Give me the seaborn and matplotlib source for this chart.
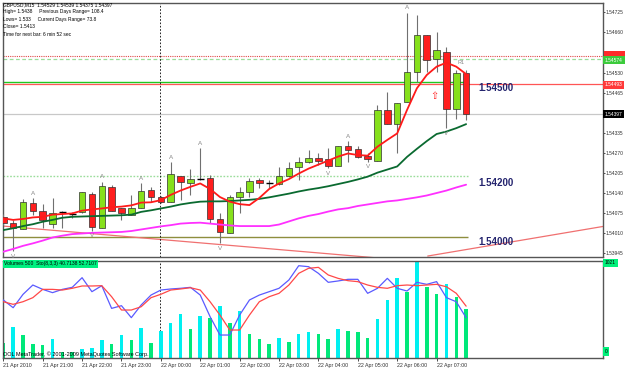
import numpy as np
import pandas as pd
import matplotlib
matplotlib.use("Agg")
import matplotlib.pyplot as plt
import seaborn as sns
from matplotlib.patches import Rectangle

# ---------------- data ----------------
hour_labels = ["21 Apr 2010", "21 Apr 21:00", "21 Apr 22:00", "21 Apr 23:00",
               "22 Apr 00:00", "22 Apr 01:00", "22 Apr 02:00", "22 Apr 03:00",
               "22 Apr 04:00", "22 Apr 05:00", "22 Apr 06:00", "22 Apr 07:00"]

opens = [1.54062, 1.54044, 1.54023, 1.54107, 1.54083, 1.54039, 1.54077, 1.54073, 1.54077, 1.54137,
         1.54026, 1.54159, 1.54090, 1.54069, 1.54092, 1.54150, 1.54126, 1.54110, 1.54195, 1.54171,
         1.54185, 1.54188, 1.54055, 1.54012, 1.54126, 1.54144, 1.54182, 1.54173, 1.54169, 1.54195,
         1.54225, 1.54241, 1.54252, 1.54249, 1.54229, 1.54292, 1.54282, 1.54260, 1.54245, 1.54409,
         1.54363, 1.54436, 1.54533, 1.54652, 1.54573, 1.54597, 1.54412, 1.54529]
highs = [1.54072, 1.54053, 1.54121, 1.54124, 1.54104, 1.54124, 1.54083, 1.54079, 1.54143, 1.54144,
         1.54177, 1.54167, 1.54091, 1.54132, 1.54172, 1.54160, 1.54131, 1.54239, 1.54195, 1.54217,
         1.54285, 1.54198, 1.54074, 1.54134, 1.54159, 1.54190, 1.54189, 1.54182, 1.54223, 1.54241,
         1.54258, 1.54279, 1.54270, 1.54285, 1.54292, 1.54308, 1.54293, 1.54270, 1.54426, 1.54466,
         1.54430, 1.54723, 1.54716, 1.54652, 1.54660, 1.54614, 1.54538, 1.54539]
lows = [1.54036, 1.53952, 1.54023, 1.54069, 1.54027, 1.54028, 1.54028, 1.54059, 1.54075, 1.54017,
        1.54026, 1.54083, 1.54053, 1.54069, 1.54092, 1.54112, 1.54108, 1.54110, 1.54117, 1.54134,
        1.54182, 1.54044, 1.53977, 1.54012, 1.54076, 1.54128, 1.54155, 1.54155, 1.54166, 1.54191,
        1.54182, 1.54236, 1.54231, 1.54220, 1.54229, 1.54242, 1.54253, 1.54241, 1.54244, 1.54364,
        1.54269, 1.54436, 1.54500, 1.54533, 1.54533, 1.54350, 1.54380, 1.54375]
closes = [1.54043, 1.54026, 1.54110, 1.54082, 1.54053, 1.54074, 1.54077, 1.54073, 1.54142, 1.54031,
          1.54163, 1.54083, 1.54075, 1.54092, 1.54146, 1.54126, 1.54110, 1.54201, 1.54175, 1.54184,
          1.54185, 1.54056, 1.54013, 1.54128, 1.54142, 1.54180, 1.54171, 1.54173, 1.54195, 1.54222,
          1.54241, 1.54252, 1.54244, 1.54228, 1.54291, 1.54278, 1.54256, 1.54249, 1.54408, 1.54364,
          1.54430, 1.54533, 1.54652, 1.54571, 1.54603, 1.54412, 1.54528, 1.54397]

ma_fast = [1.54058, 1.54053, 1.54056, 1.54061, 1.54063, 1.54070, 1.54072, 1.54074, 1.54083, 1.54087,
           1.54090, 1.54094, 1.54096, 1.54100, 1.54109, 1.54110, 1.54117, 1.54134, 1.54148, 1.54160,
           1.54171, 1.54153, 1.54127, 1.54112, 1.54104, 1.54101, 1.54124, 1.54153, 1.54171, 1.54185,
           1.54203, 1.54219, 1.54232, 1.54245, 1.54258, 1.54268, 1.54263, 1.54261, 1.54290, 1.54312,
           1.54333, 1.54409, 1.54479, 1.54522, 1.54549, 1.54562, 1.54549, 1.54525]
ma_mid = [1.54020, 1.54026, 1.54033, 1.54039, 1.54047, 1.54053, 1.54060, 1.54063, 1.54064, 1.54065,
          1.54066, 1.54067, 1.54068, 1.54070, 1.54079, 1.54084, 1.54090, 1.54096, 1.54103, 1.54108,
          1.54112, 1.54113, 1.54113, 1.54114, 1.54116, 1.54118, 1.54121, 1.54126, 1.54132, 1.54138,
          1.54145, 1.54151, 1.54156, 1.54162, 1.54169, 1.54176, 1.54184, 1.54193, 1.54206, 1.54216,
          1.54226, 1.54257, 1.54283, 1.54308, 1.54331, 1.54339, 1.54350, 1.54363]
ma_slow = [1.53950, 1.53959, 1.53969, 1.53977, 1.53986, 1.53996, 1.54002, 1.54007, 1.54009, 1.54011,
           1.54012, 1.54013, 1.54014, 1.54017, 1.54022, 1.54027, 1.54032, 1.54036, 1.54041, 1.54043,
           1.54044, 1.54041, 1.54038, 1.54035, 1.54033, 1.54033, 1.54033, 1.54033, 1.54038, 1.54048,
           1.54058, 1.54066, 1.54072, 1.54080, 1.54087, 1.54091, 1.54098, 1.54103, 1.54108, 1.54113,
           1.54116, 1.54121, 1.54126, 1.54132, 1.54140, 1.54148, 1.54158, 1.54167]

volume = [163, 334, 245, 149, 139, 203, 68, 60, 96, 107, 192, 149, 245, 189, 320, 163, 288, 373,
          469, 309, 445, 427, 555, 377, 501, 259, 203, 146, 210, 167, 259, 277, 253, 206, 309, 288,
          277, 210, 419, 619, 857, 701, 1021, 761, 680, 786, 654, 523]
stoch_main = [59.1, 51.1, 64.9, 74.6, 70.1, 66.7, 70.1, 72.2, 82.2, 67.7, 73.9, 50.4, 53.2, 40.8,
              53.9, 64.2, 69.4, 70.5, 71.2, 72.2, 64.2, 41.8, 22.8, 22.8, 43.5, 59.1, 64.2, 67.7,
              71.2, 79.8, 94.6, 93.6, 86.7, 77.4, 78.8, 80.5, 80.5, 66.0, 71.2, 81.5, 71.2, 68.4,
              77.4, 75.3, 78.1, 61.5, 57.3, 40.7138]
stoch_signal = [57.3, 54.6, 57.3, 61.5, 70.1, 70.1, 69.4, 71.2, 73.6, 73.6, 73.9, 62.5, 48.7, 48.7,
                52.1, 61.5, 65.0, 69.4, 70.5, 71.8, 69.4, 57.3, 43.5, 28.0, 28.0, 43.5, 57.3, 62.5,
                66.0, 74.6, 86.7, 91.9, 92.9, 85.0, 81.5, 79.1, 78.1, 74.6, 72.2, 71.2, 73.9, 74.6,
                73.9, 74.6, 75.3, 72.8, 66.0, 52.7107]

fractal_up = [3, 10, 14, 17, 20, 35, 41]
fractal_down = [1, 9, 22, 33, 37, 45]

price_ticks = [1.54725, 1.54660, 1.54595, 1.54530, 1.54465, 1.54400, 1.54335,
               1.54270, 1.54205, 1.54140, 1.54075, 1.54010, 1.53945]
hidden_ticks = [1.54595, 1.54400]   # covered by the price labels in the reference

level_red_dotted = 1.54582
level_green_dashed = 1.54574
level_green = 1.54500
level_red = 1.54493
level_bid = 1.54397
level_green_dotted = 1.54195
level_olive = 1.53998
trend_down = ([0, 38.3], [1.54033, 1.53929])
trend_up = ([43.1, 61.5], [1.53936, 1.54035])

info_lines = ["GBPUSD,M15  1.54529 1.54539 1.54375 1.54397",
              "High= 1.5438     Previous Days Range= 108.4",
              "Lows= 1.533     Current Days Range= 73.8",
              "Close= 1.5413",
              "Time for next bar: 6 min 52 sec"]

# ---------------- styling ----------------
sns.set_style("white")
plt.rcParams['font.family'] = ['Liberation Sans', 'DejaVu Sans']

W, H = 625, 370
fig = plt.figure(figsize=(6.25, 3.7), dpi=100)
fig.patch.set_facecolor('white')


def fx(px):
    return px / W


def fy(py):
    return 1 - py / H


ax = fig.add_axes([fx(3), fy(257), fx(603) - fx(3), fy(3) - fy(257)])
axv = fig.add_axes([fx(3), fy(358), fx(603) - fx(3), fy(260.5) - fy(358)], sharex=ax)

idx = np.arange(len(opens))
o = np.array(opens); h = np.array(highs); l = np.array(lows); c = np.array(closes)
df = pd.DataFrame({"i": idx, "fast": ma_fast, "mid": ma_mid, "slow": ma_slow,
                   "sto": stoch_main, "sig": stoch_signal, "vol": volume})

XMIN, XMAX = -0.03, 60.9
ax.set_xlim(XMIN, XMAX)
ax.set_ylim(1.539329, 1.547551)

# horizontal levels
ax.axhline(level_red_dotted, color='#E04848', lw=0.8, ls=(0, (1, 1)), zorder=1)
ax.axhline(level_green_dashed, color='#9ADD9A', lw=0.9, ls=(0, (3, 2)), zorder=1)
ax.hlines(level_green, XMIN, 47.2, color='#20C820', lw=1.0, zorder=1)
ax.axhline(level_red, color='#FF5555', lw=0.9, zorder=1)
ax.axhline(level_bid, color='#C8C8C8', lw=0.9, zorder=1)
ax.hlines(level_green_dotted, XMIN, 47.2, color='#9ADD9A', lw=1.0, ls=(0, (1.2, 1.2)), zorder=1)
ax.hlines(level_olive, XMIN, 47.2, color='#8E8E3E', lw=1.0, zorder=1)
ax.plot(trend_down[0], trend_down[1], color='#F07070', lw=0.9, zorder=1)
ax.plot(trend_up[0], trend_up[1], color='#F07070', lw=0.9, zorder=1)

# day separator
for a in (ax, axv):
    a.axvline(15.95, color='black', lw=0.6, ls=(0, (2, 2)), zorder=2)

# moving averages
sns.lineplot(data=df, x="i", y="slow", ax=ax, color='#FF30FF', linewidth=1.3, zorder=5, legend=False)
sns.lineplot(data=df, x="i", y="mid", ax=ax, color='#0A6A30', linewidth=1.3, zorder=5, legend=False)

# candles
ax.vlines(idx, l, h, color='#707070', lw=0.8, zorder=3)
bull = c > o
bear = c < o
doji = c == o
ax.bar(idx[bull], (c - o)[bull], bottom=o[bull], width=0.66, color='#86E01C',
       edgecolor='#303030', linewidth=0.5, zorder=4)
ax.bar(idx[bear], (o - c)[bear], bottom=c[bear], width=0.66, color='#FF1E1E',
       edgecolor='#303030', linewidth=0.5, zorder=4)
ax.hlines(c[doji], idx[doji] - 0.34, idx[doji] + 0.34, color='black', lw=1.0, zorder=4)

sns.lineplot(data=df, x="i", y="fast", ax=ax, color='#FF1A1A', linewidth=1.3, zorder=6, legend=False)

# fractals
off = 0.00016
for i in fractal_up:
    ax.text(i, h[i] + off, 'A', fontsize=4.5, color='#8A8A8A', ha='center', va='center', zorder=7)
for i in fractal_down:
    ax.text(i, l[i] - off, 'V', fontsize=4.5, color='#8A8A8A', ha='center', va='center', zorder=7)

# text objects
for txt, p in [("1.54500", 1.54480), ("1.54200", 1.54172), ("1.54000", 1.53981)]:
    ax.text(48.2, p, txt, fontsize=7, fontweight='bold', color='#24246E', ha='left', va='center', zorder=8)
ax.text(46.5, 1.54561, "R1", fontsize=4, color='#8A8A8A', ha='center', va='center', zorder=8)
ax.text(43.8, 1.54454, "\u21e7", fontsize=7, color='#FF2020', ha='center', va='center', zorder=8,
        family='DejaVu Sans')

ax.set_xlabel('')
ax.set_ylabel('')
ax.tick_params(axis='x', bottom=False, labelbottom=False)
ax.yaxis.tick_right()
ax.set_yticks(price_ticks)
ax.set_yticklabels(["" if v in hidden_ticks else f"{v:.5f}" for v in price_ticks])
ax.tick_params(axis='y', right=True, length=1.5, width=0.6, pad=0.6, labelsize=3.5, colors='#303030',
               direction='out')

# ---------------- lower panel ----------------
vol_colors = ['#00E87A'] + ['#00F0F0' if volume[k] > volume[k - 1] else '#00E87A'
                            for k in range(1, len(volume))]
axv.bar(idx, volume, width=0.36, color=vol_colors, linewidth=0, zorder=2)
axv.set_ylim(0, 1040)
axv.set_yticks([])
axs = axv.twinx()
sns.lineplot(data=df, x="i", y="sto", ax=axs, color='#5A5AFF', linewidth=0.9, zorder=3, legend=False)
sns.lineplot(data=df, x="i", y="sig", ax=axs, color='#FF4848', linewidth=0.9, zorder=3, legend=False)
axs.set_ylim(-1, 100)
axs.set_yticks([])
axs.set_ylabel('')
for s in axs.spines.values():
    s.set_visible(False)
axv.set_xlabel('')
axv.set_ylabel('')
axv.set_xlim(XMIN, XMAX)

axv.set_xticks(idx[::4])
axv.set_xticklabels(hour_labels)
for t in axv.get_xticklabels():
    t.set_ha('left')
axv.tick_params(axis='x', bottom=True, length=2.5, width=0.6, pad=1, labelsize=3.8,
                colors='#303030', direction='out')

for a in (ax, axv):
    for s in a.spines.values():
        s.set_color('#555555')
        s.set_linewidth(1.0)

# ---------------- overlay labels ----------------
def box(px, py, txt, fc, tc):
    fig.text(fx(px), fy(py), txt, fontsize=3.5, color=tc, ha='left', va='center', zorder=20,
             bbox=dict(boxstyle='square,pad=0.35', fc=fc, ec='none'))


# red price label mostly hidden behind the green one
fig.patches.append(Rectangle((fx(604), fy(57.5)), fx(21), fy(51) - fy(57.5), transform=fig.transFigure,
                             fc='#FF2A2A', ec='none', zorder=19))
box(605, 60, "1.54574", '#3CCB3C', 'white')
box(605, 85, "1.54493", '#FF3A3A', 'white')
box(605, 114, "1.54397", '#000000', 'white')
box(605, 263, "1021", '#00F07A', 'black')
box(605, 351.5, "0", '#00F07A', 'black')

for k, line in enumerate(info_lines):
    fig.text(fx(3), fy(4.5 + 7.5 * k), line, fontsize=3.5, color='black', ha='left', va='center', zorder=20)

fig.text(fx(4), fy(263.5), "Volumes 500  Sto(8,3,3) 40.7138 52.7107", fontsize=3.6, color='black',
         ha='left', va='center', zorder=20,
         bbox=dict(boxstyle='square,pad=0.3', fc='#00F080', ec='none'))
fig.text(fx(3), fy(354), "OOL MetaTrader, \u00a9 2001-2009 MetaQuotes Software Corp.", fontsize=4.0,
         color='black', ha='left', va='center', zorder=20)

fig.savefig("out.png", dpi=100, facecolor='white')
